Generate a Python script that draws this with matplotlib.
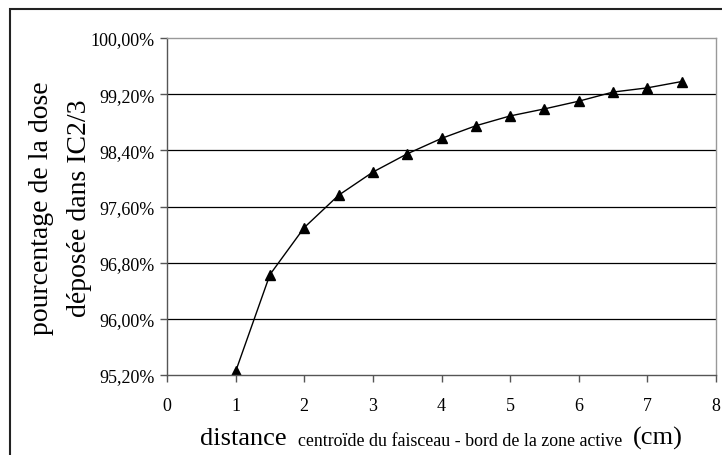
import matplotlib.pyplot as plt
from matplotlib.patches import Rectangle

plt.rcParams['font.family'] = ['Liberation Serif', 'DejaVu Serif']

# distance centroide - bord (cm) et pourcentage de dose dans IC2/3
distance = [1.0, 1.5, 2.0, 2.5, 3.0, 3.5, 4.0, 4.5, 5.0, 5.5, 6.0, 6.5, 7.0, 7.5]
dose = [95.25, 96.63, 97.30, 97.76, 98.09, 98.35, 98.57, 98.75, 98.89, 98.99,
        99.10, 99.23, 99.29, 99.38]

yticks = [95.2, 96.0, 96.8, 97.6, 98.4, 99.2, 100.0]
xticks = [0, 1, 2, 3, 4, 5, 6, 7, 8]

W, H = 722, 456
fig = plt.figure(figsize=(W/100, H/100), dpi=100)
ax = fig.add_axes([167/W, 1-376/H, (716-167)/W, (376-39)/H])

ax.plot(distance, dose, color='black', lw=1.0, marker='^', markersize=6.5,
        markerfacecolor='black', markeredgecolor='black')

ax.set_xlim(0, 8)
ax.set_ylim(95.2, 100.0)
ax.set_xticks(xticks)
ax.set_yticks(yticks)
ax.set_xticklabels([str(v) for v in xticks], fontsize=13)
ax.set_yticklabels([('%.2f%%' % v).replace('.', ',') for v in yticks], fontsize=13)
ax.tick_params(direction='out', length=5, width=1, color='#555555', pad=4)
ax.tick_params(axis='x', pad=11)

for v in yticks[1:-1]:
    ax.axhline(v, color='black', lw=0.9, zorder=0)

ax.spines['left'].set_color('#555555')
ax.spines['bottom'].set_color('#555555')
ax.spines['top'].set_color('#999999')
ax.spines['right'].set_color('#999999')
for s in ax.spines.values():
    s.set_linewidth(1.0)

# titre de l'axe y sur deux lignes
fig.text(42/W, 1-208/H, 'pourcentage de la dose', rotation=90, fontsize=20,
         ha='center', va='center')
fig.text(80/W, 1-208/H, 'déposée dans IC2/3', rotation=90, fontsize=20,
         ha='center', va='center')

# titre de l'axe x avec partie en petit
fig.text(200/W, 1-445/H, 'distance', fontsize=19, ha='left', va='baseline')
fig.text(298/W, 1-446.5/H, 'centroïde du faisceau - bord de la zone active',
         fontsize=12.9, ha='left', va='baseline')
fig.text(633/W, 1-445/H, '(cm)', fontsize=19, ha='left', va='baseline')

# cadre exterieur du graphique
fig.patches.append(Rectangle((10/W, -0.1), 1.2, 1-10/H+0.1,
                             transform=fig.transFigure, fill=False,
                             edgecolor='#222222', lw=1.5))

fig.savefig('out.png', dpi=100)
